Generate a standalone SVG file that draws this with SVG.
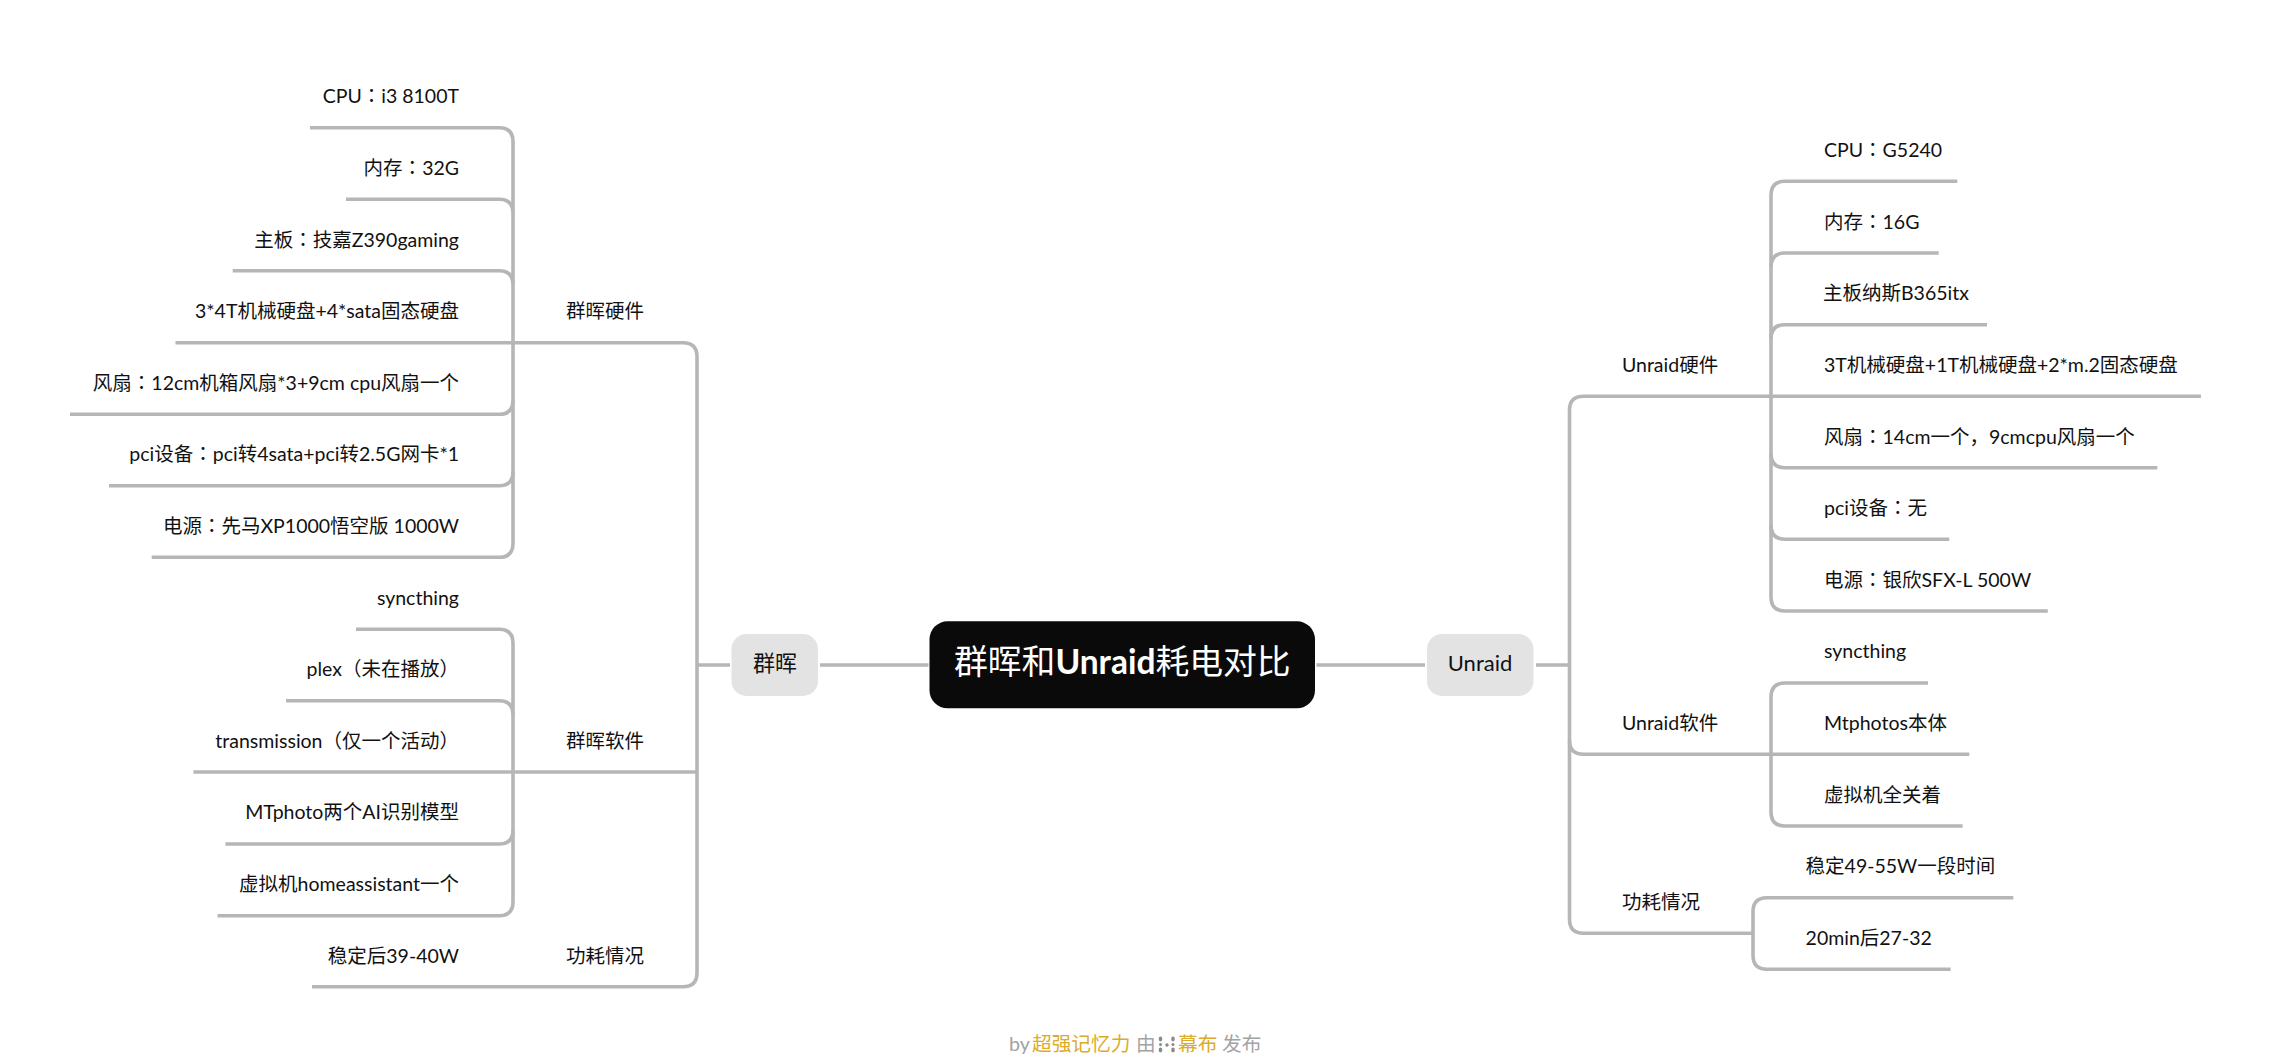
<svg xmlns="http://www.w3.org/2000/svg" width="2270" height="1060" viewBox="0 0 2270 1060">
<style>
text{font-family:Lato,"Noto Sans CJK SC",sans-serif;font-size:19.500px;fill:#111}
.e{text-anchor:end}
.c{text-anchor:middle}
.m{font-family:"Noto Sans CJK TC",sans-serif}
.l{fill:none;stroke:#b6b6b6;stroke-width:3.600}
.b{fill:#e3e3e3}
.h{font-size:22px}
.f{font-size:19.700px;fill:#a3a3a3}
.g{font-size:19.700px;fill:#dcab2a}
</style>
<rect width="2270" height="1060" fill="#fff"/>
<g id="connectors" class="l">
<path d="M820 665H928.500M1316.500 665H1425M1536 665H1569.500M697 665H730"/>
<path d="M175.500 342.700H683Q697 342.700 697 356.700V972.700Q697 986.700 683 986.700H312"/>
<path d="M513 772H697"/>
<path d="M310 127.700H499Q513 127.700 513 141.700V543.300Q513 557.300 499 557.300H151.700"/>
<path d="M346 199.300H499Q513 199.300 513 213.300M232.700 270.700H499Q513 270.700 513 284.700"/>
<path d="M70 414.300H499Q513 414.300 513 400.300M109 485.700H499Q513 485.700 513 471.700"/>
<path d="M356 629.300H499Q513 629.300 513 643.300V901.700Q513 915.700 499 915.700H217.600"/>
<path d="M286 700.700H499Q513 700.700 513 714.700M193.400 772H513M225.400 844H499Q513 844 513 830"/>
<path d="M1753 933.300H1583.500Q1569.500 933.300 1569.500 919.300V410.300Q1569.500 396.300 1583.500 396.300H2200.900"/>
<path d="M1569.500 740.300Q1569.500 754.300 1583.500 754.300H1969.300"/>
<path d="M1957.300 181.300H1785Q1771 181.300 1771 195.300V597Q1771 611 1785 611H2047.800"/>
<path d="M1938.700 253H1785Q1771 253 1771 267M1987 324.700H1785Q1771 324.700 1771 338.700"/>
<path d="M2157.300 467.700H1785Q1771 467.700 1771 453.700M1949.200 539.300H1785Q1771 539.300 1771 525.300"/>
<path d="M1928 683H1785Q1771 683 1771 697V812Q1771 826 1785 826H1962.600"/>
<path d="M2013.300 897.700H1767Q1753 897.700 1753 911.700V955.300Q1753 969.300 1767 969.300H1950.600"/>
</g>
<g id="root"><rect x="929.500" y="621.300" width="385.500" height="87" rx="18" fill="#0a0a0a"/>
<text x="954" y="674" style="font-size:33.800px;fill:#fff">群晖和<tspan style="font-size:33.500px;font-weight:700">Unraid</tspan>耗电对比</text></g>
<g id="n-qh"><rect class="b" x="731.500" y="634" width="86.500" height="62" rx="15"/><text class="c h" x="775" y="671">群晖</text></g>
<g id="n-un"><rect class="b" x="1427" y="634" width="106.500" height="62" rx="15"/><text class="c h" x="1480" y="671">Unraid</text></g>
<g id="n-qhhw"><text x="566" y="318">群晖硬件</text></g>
<g id="n-qhsw"><text x="566" y="748">群晖软件</text></g>
<g id="n-qhpw"><text x="566" y="963">功耗情况</text></g>
<g id="n-unhw"><text x="1622" y="372">Unraid硬件</text></g>
<g id="n-unsw"><text x="1622" y="730">Unraid软件</text></g>
<g id="n-unpw"><text x="1622" y="909">功耗情况</text></g>
<g id="n-l1"><text class="e" x="459" y="103">CPU<tspan class="m">：</tspan>i3 8100T</text></g>
<g id="n-l2"><text class="e" x="459" y="175">内存<tspan class="m">：</tspan>32G</text></g>
<g id="n-l3"><text class="e" x="459" y="247">主板<tspan class="m">：</tspan>技嘉Z390gaming</text></g>
<g id="n-l4"><text class="e" x="459" y="318">3*4T机械硬盘+4*sata固态硬盘</text></g>
<g id="n-l5"><text class="e" x="459" y="390">风扇<tspan class="m">：</tspan>12cm机箱风扇*3+9cm cpu风扇一个</text></g>
<g id="n-l6"><text class="e" x="459" y="461">pci设备<tspan class="m">：</tspan>pci转4sata+pci转2.5G网卡*1</text></g>
<g id="n-l7"><text class="e" x="459" y="533">电源<tspan class="m">：</tspan>先马XP1000悟空版 1000W</text></g>
<g id="n-l8"><text class="e" x="459" y="605">syncthing</text></g>
<g id="n-l9"><text class="e" x="459" y="676">plex（未在播放）</text></g>
<g id="n-l10"><text class="e" x="459" y="748">transmission（仅一个活动）</text></g>
<g id="n-l11"><text class="e" x="459" y="819">MTphoto两个AI识别模型</text></g>
<g id="n-l12"><text class="e" x="459" y="891">虚拟机homeassistant一个</text></g>
<g id="n-l13"><text class="e" x="459" y="963">稳定后39-40W</text></g>
<g id="n-r1"><text x="1824" y="157">CPU<tspan class="m">：</tspan>G5240</text></g>
<g id="n-r2"><text x="1824" y="229">内存<tspan class="m">：</tspan>16G</text></g>
<g id="n-r3"><text x="1823" y="300">主板纳斯B365itx</text></g>
<g id="n-r4"><text x="1824" y="372">3T机械硬盘+1T机械硬盘+2*m.2固态硬盘</text></g>
<g id="n-r5"><text x="1824" y="444">风扇<tspan class="m">：</tspan>14cm一个，9cmcpu风扇一个</text></g>
<g id="n-r6"><text x="1824" y="515">pci设备<tspan class="m">：</tspan>无</text></g>
<g id="n-r7"><text x="1824" y="587">电源<tspan class="m">：</tspan>银欣SFX-L 500W</text></g>
<g id="n-r8"><text x="1824" y="658">syncthing</text></g>
<g id="n-r9"><text x="1824" y="730">Mtphotos本体</text></g>
<g id="n-r10"><text x="1824" y="802">虚拟机全关着</text></g>
<g id="n-r11"><text x="1805.600" y="873">稳定49-55W一段时间</text></g>
<g id="n-r12"><text x="1805.600" y="945">20min后27-32</text></g>
<g id="footer"><text class="f" x="1009" y="1051">by</text><text class="g" x="1032" y="1051">超强记忆力</text><text class="f" x="1136" y="1051">由</text>
<g fill="#8a8a8a"><ellipse cx="1160.500" cy="1039" rx="1.800" ry="2.400"/><circle cx="1160.500" cy="1044.500" r="1.500"/><ellipse cx="1160.500" cy="1050" rx="1.800" ry="2.400"/><circle cx="1167" cy="1045" r="1.700"/><ellipse cx="1173" cy="1039" rx="1.800" ry="2.400"/><circle cx="1173" cy="1044.500" r="1.500"/><ellipse cx="1173" cy="1050" rx="1.800" ry="2.400"/></g>
<text class="g" x="1178" y="1051">幕布</text><text class="f" x="1222" y="1051">发布</text></g>
</svg>
